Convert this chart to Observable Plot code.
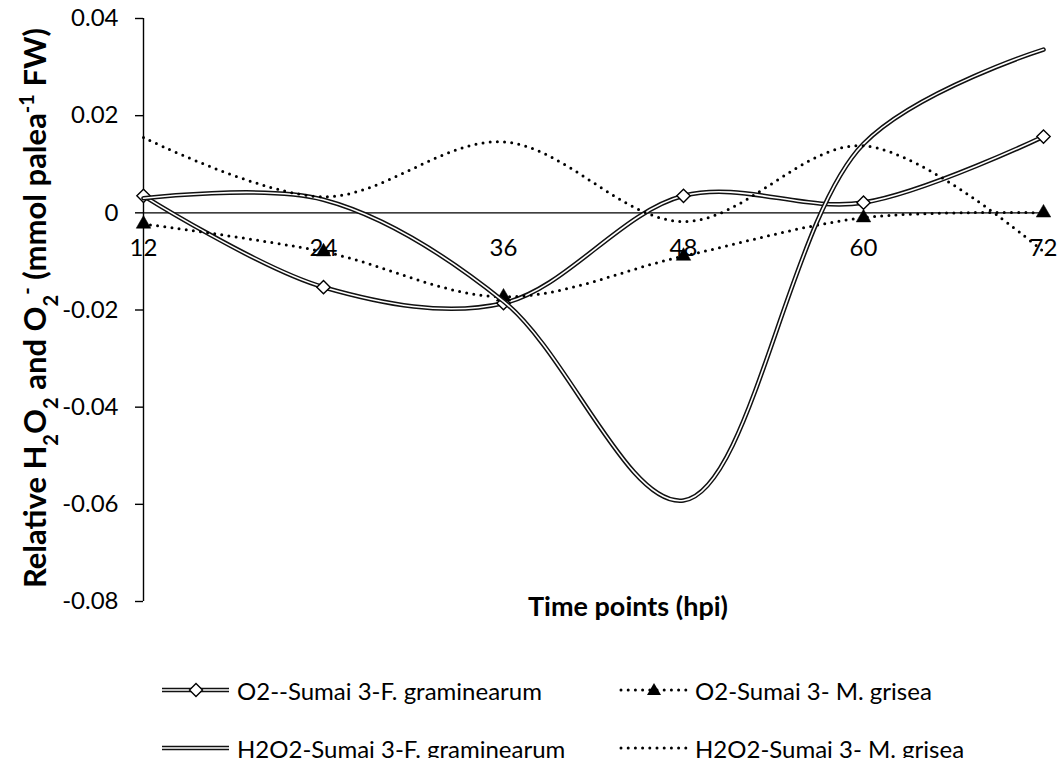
<!DOCTYPE html>
<html><head><meta charset="utf-8">
<script src="https://cdn.jsdelivr.net/npm/d3@7"></script>
<script src="https://cdn.jsdelivr.net/npm/@observablehq/plot@0.6"></script>
<style>
html,body{margin:0;padding:0;background:#fff;}
body{width:1059px;height:758px;overflow:hidden;font-family:Lato, sans-serif;}
#chart svg{display:block;}
#legend{position:relative;height:97px;}
.item{position:absolute;display:flex;align-items:center;font-size:24px;color:#000;white-space:nowrap;height:40px;}
.item svg{display:block;margin-right:7px;}
</style></head><body>
<div id="chart"></div>
<div id="legend"></div>
<script>
// ---- data ----
const hours = [12, 24, 36, 48, 60, 72];
const o2Fg   = [0.0035, -0.0153, -0.0186, 0.0035, 0.0021, 0.0157];
const o2Mg   = [-0.0023, -0.0080, -0.0173, -0.0089, -0.0010, 0.0000];
const h2o2Fg = [0.0030, 0.0027, -0.0182, -0.0592, 0.0142, 0.0336];
const h2o2Mg = [0.0155, 0.0033, 0.0146, -0.0018, 0.0138, -0.0080];
const seriesNames = [
  "O2--Sumai 3-F. graminearum",
  "O2-Sumai 3- M. grisea",
  "H2O2-Sumai 3-F. graminearum",
  "H2O2-Sumai 3- M. grisea"
];
const yTicks = [-0.08, -0.06, -0.04, -0.02, 0, 0.02, 0.04];
const xTicks = hours;
const xTitle = "Time points (hpi)";

const rows = vals => hours.map((h, i) => ({h, v: vals[i]}));
const r1 = rows(o2Fg), r2 = rows(o2Mg), r3 = rows(h2o2Fg), r4 = rows(h2o2Mg);

const FONT = "Lato, sans-serif";
const W = 1059, H = 661;
const dbl = (data) => [
  Plot.line(data, {x: "h", y: "v", curve: "catmull-rom", stroke: "#111", strokeWidth: 4.6}),
  Plot.line(data, {x: "h", y: "v", curve: "catmull-rom", stroke: "#fff", strokeWidth: 1.6})
];
const dotted = (data) => Plot.line(data, {x: "h", y: "v", curve: "catmull-rom", stroke: "#000",
  strokeWidth: 3, strokeDasharray: "0 7.2", strokeLinecap: "round"});

const chart = Plot.plot({
  width: W, height: H,
  marginLeft: 143, marginRight: 16, marginTop: 18, marginBottom: 60,
  x: {domain: [12, 72], axis: null},
  y: {domain: [-0.08, 0.04], axis: null},
  style: {fontFamily: FONT, background: "#fff", color: "#000"},
  marks: [
    Plot.ruleY([0], {stroke: "#000", strokeWidth: 1.4}),
    Plot.ruleX([12], {stroke: "#000", strokeWidth: 1.4}),
    Plot.axisY({ticks: yTicks, tickFormat: d => d === 0 ? "0" : d.toFixed(2), tickSize: 8, tickPadding: 17,
      fontSize: 24, label: null, strokeWidth: 1.4}),
    Plot.text(xTicks, {x: d => d, y: 0, dy: 35, text: d => String(d), fontSize: 24, fill: "#000"}),
    ...dbl(r1),
    Plot.dot(r1, {x: "h", y: "v", symbol: "diamond2", r: 6, fill: "#fff", stroke: "#000", strokeWidth: 1.4}),
    dotted(r2),
    Plot.dot(r2, {x: "h", y: "v", symbol: "triangle", r: 5.4, fill: "#000", stroke: "#000", strokeWidth: 0.5}),
    ...dbl(r3),
    dotted(r4)
  ]
});
document.getElementById("chart").appendChild(chart);

// axis titles
const svg = d3.select(chart);
svg.append("text").attr("x", 628).attr("y", 607).attr("text-anchor", "middle").attr("dy", "0.35em")
  .attr("font-family", FONT).attr("font-weight", "bold").attr("font-size", 27).attr("fill", "#000").text(xTitle);

const yT = svg.append("text").attr("transform", "translate(35,308) rotate(-90)").attr("text-anchor", "middle")
  .attr("dy", "0.35em").attr("font-family", FONT).attr("font-weight", "bold").attr("font-size", 31).attr("fill", "#000");
const parts = [["Relative H", null], ["2", "sub"], ["O", null], ["2", "sub"], [" and O", null], ["2", "sub"], ["-", "super"],
  [" (mmol palea", null], ["-1", "super"], [" FW)", null]];
parts.forEach(([t, s]) => {
  const ts = yT.append("tspan").text(t);
  if (s) ts.attr("baseline-shift", s).attr("font-size", 20);
});

// legend (HTML below the SVG)
const legend = document.getElementById("legend");
const swatch = (kind) => {
  const ns = "http://www.w3.org/2000/svg";
  const s = document.createElementNS(ns, "svg");
  s.setAttribute("width", 69); s.setAttribute("height", 20);
  if (kind === "dbl" || kind === "dblm") {
    s.innerHTML = '<line x1="1" y1="10" x2="68" y2="10" stroke="#111" stroke-width="4.6"/>' +
      '<line x1="1" y1="10" x2="68" y2="10" stroke="#fff" stroke-width="1.6"/>' +
      (kind === "dblm" ? '<path d="M35 3.5 L41.5 10 L35 16.5 L28.5 10 Z" fill="#fff" stroke="#000" stroke-width="1.4"/>' : "");
  } else {
    s.innerHTML = '<line x1="2" y1="10" x2="68" y2="10" stroke="#000" stroke-width="3" stroke-dasharray="0 7.2" stroke-linecap="round"/>' +
      (kind === "dotm" ? '<path d="M35 3 L42 15 L28 15 Z" fill="#000"/>' : "");
  }
  return s;
};
const kinds = ["dblm", "dotm", "dbl", "dot"];
const lefts = [161, 619], tops = [9, 67];
seriesNames.forEach((name, i) => {
  const d = document.createElement("div");
  d.className = "item";
  d.style.left = lefts[i % 2] + "px";
  d.style.top = tops[Math.floor(i / 2)] + "px";
  d.appendChild(swatch(kinds[i]));
  const sp = document.createElement("span");
  sp.textContent = name;
  d.appendChild(sp);
  legend.appendChild(d);
});
</script>
</body></html>
